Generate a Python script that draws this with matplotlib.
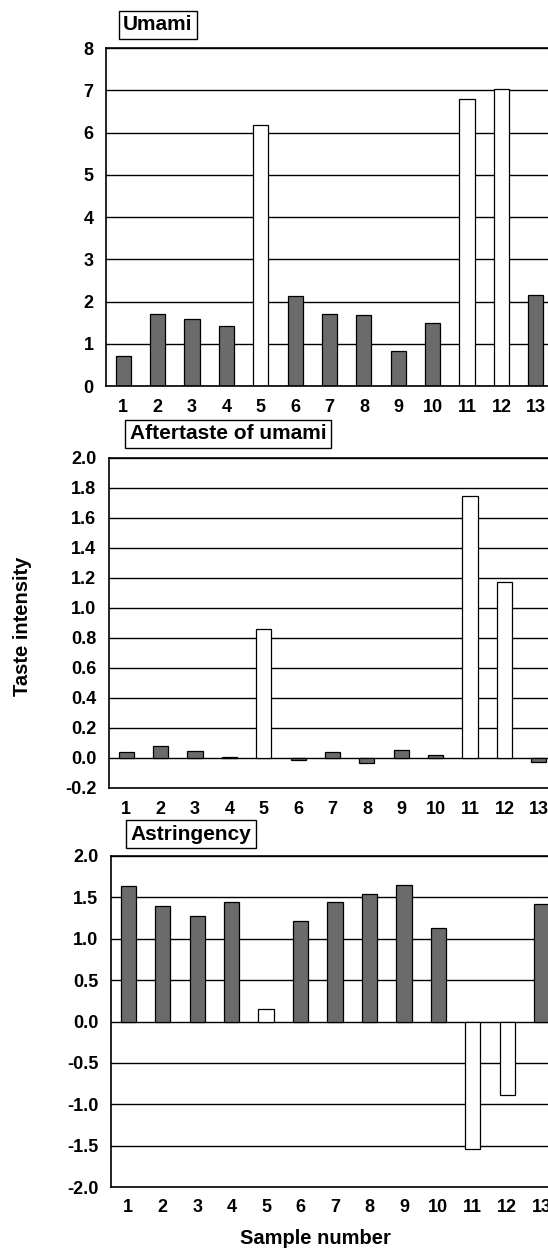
import numpy as np
import matplotlib
matplotlib.use('Agg')
import matplotlib.pyplot as plt

plt.rcParams['font.family'] = ['Liberation Sans', 'DejaVu Sans']
plt.rcParams['font.weight'] = 'bold'

samples = list(range(1, 14))
umami = [0.70, 1.71, 1.59, 1.42, 6.17, 2.13, 1.71, 1.67, 0.84, 1.48, 6.80, 7.04, 2.16]
aftertaste = [0.038, 0.078, 0.049, 0.009, 0.862, -0.011, 0.040, -0.033, 0.053, 0.022, 1.747, 1.171, -0.029]
astringency = [1.64, 1.39, 1.27, 1.44, 0.153, 1.21, 1.44, 1.54, 1.65, 1.125, -1.54, -0.887, 1.42]
white_samples = [5, 11, 12]

titles = ['Umami', 'Aftertaste of umami', 'Astringency']
ylims = [(0, 8), (-0.2, 2.0), (-2.0, 2.0)]
yticks = [np.arange(0, 9, 1), np.arange(-0.2, 2.01, 0.2), np.arange(-2.0, 2.01, 0.5)]
yfmt = ['{:.0f}', '{:.1f}', '{:.1f}']

W, H = 548, 1249
fig = plt.figure(figsize=(W / 100, H / 100), dpi=100)

# axes boxes in pixels: left, top, bottom, right (right runs past the edge, as in the scan)
boxes = [(106, 48, 386, 553), (109, 458, 788, 556), (111, 856, 1187, 559)]
title_pos = [(158, 25), (228, 434), (191, 834)]
data = [umami, aftertaste, astringency]

for i in range(3):
    l, t, b, r = boxes[i]
    ax = fig.add_axes([l / W, 1 - b / H, (r - l) / W, (b - t) / H])
    colors = ['white' if s in white_samples else '#6b6b6b' for s in samples]
    for v in yticks[i]:
        ax.axhline(v, color='black', lw=1.0, zorder=1)
    ax.bar(samples, data[i], width=0.44, color=colors, edgecolor='black', linewidth=0.9, zorder=2)
    ax.set_xlim(0.5, 13.5)
    ax.set_ylim(*ylims[i])
    ax.set_yticks(yticks[i])
    ax.set_yticklabels([yfmt[i].format(v + 0.0) for v in yticks[i]])
    ax.set_xticks(samples)
    ax.tick_params(length=0, labelsize=13, pad=9)
    for sp in ax.spines.values():
        sp.set_linewidth(1.2)
    ax.spines['right'].set_visible(False)
    tx, ty = title_pos[i]
    fig.text(tx / W, 1 - ty / H, titles[i], ha='center', va='center', fontsize=15,
             fontweight='bold', bbox=dict(boxstyle='square,pad=0.22', fc='white', ec='black', lw=1.0))

fig.text(23 / W, 1 - 626 / H, 'Taste intensity', rotation=90, ha='center', va='center',
         fontsize=14.5, fontweight='bold')
fig.text(315 / W, 1 - 1244 / H, 'Sample number', ha='center', va='baseline',
         fontsize=14.5, fontweight='bold')

fig.savefig('out.png', dpi=100)
